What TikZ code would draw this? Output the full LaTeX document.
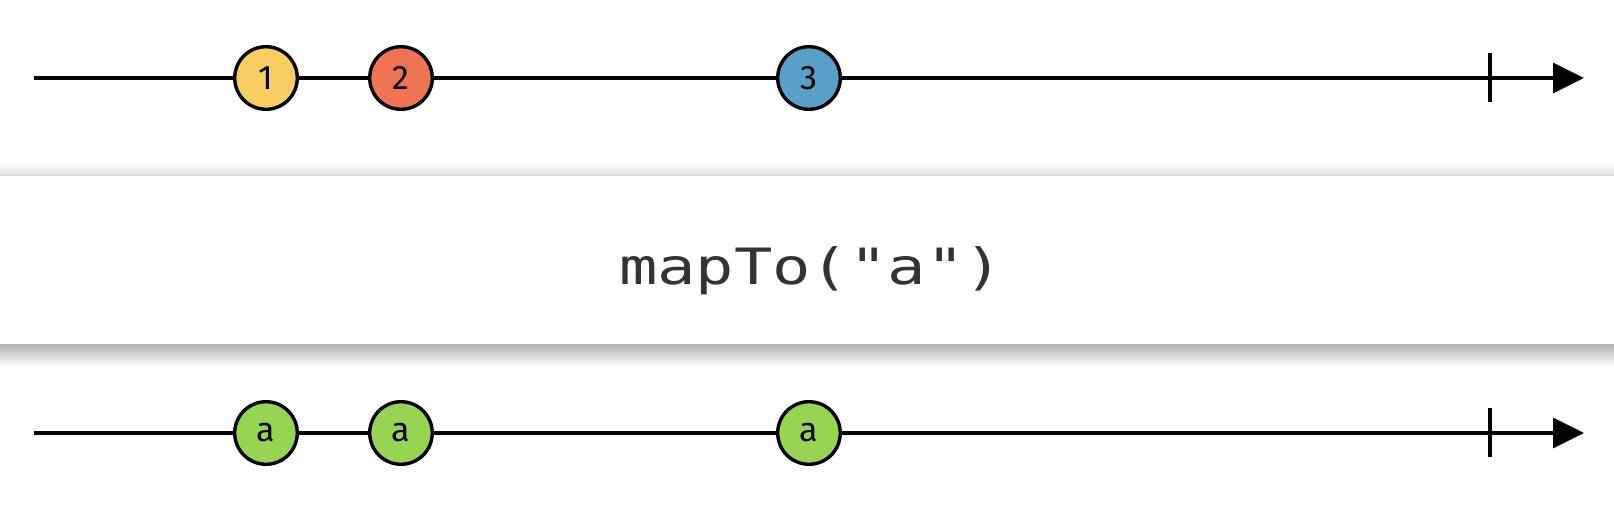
\documentclass[tikz,border=0pt]{standalone}
\usepackage{fontspec}
\setmainfont{Fira Sans}
\newfontfamily\codefont{DejaVu Sans Mono}
\usetikzlibrary{arrows.meta}

\definecolor{marbleYellow}{HTML}{F8CD62}
\definecolor{marbleRed}{HTML}{EF7453}
\definecolor{marbleBlue}{HTML}{59A0C8}
\definecolor{marbleGreen}{HTML}{97D452}
\definecolor{opText}{HTML}{333333}

\tikzset{
  timeline/.style={line width=1.6pt, -{Triangle[length=15.5pt,width=15pt]}},
  endtick/.style={line width=1.6pt},
  marble/.style={circle, draw=black, line width=1.7pt, minimum size=31.3pt,
    inner sep=0pt, font=\fontsize{17}{17}\selectfont},
  opbox/.style={fill=white, draw=none}
}

\begin{document}
\begin{tikzpicture}[x=0.5pt, y=-0.5pt]
\useasboundingbox (0,0) rectangle (1614,520);

% Input stream
\coordinate (inStart) at (34,78);
\coordinate (inEnd) at (1584,78);
\coordinate (inTick) at (1490,78);
\draw[timeline] (inStart) -- (inEnd);
\draw[endtick] (inTick) ++(0,-25) -- ++(0,49);
\node[marble, fill=marbleYellow] (in1) at (266,78) {1};
\node[marble, fill=marbleRed] (in2) at (401,78) {2};
\node[marble, fill=marbleBlue] (in3) at (809,78) {3};

% Operator box with shadow
\shade[top color=white, bottom color=black!9] (0,160) rectangle (1614,174);
\shade[top color=black!30, bottom color=white] (0,344) rectangle (1614,366);
\fill[opbox] (0,174) rectangle (1614,344);
\draw[black!14, line width=1pt] (0,174.5) -- (1614,174.5);
\node[anchor=base, text=opText, font=\codefont\fontsize{25}{25}\selectfont] (op) at (811,284) {\scalebox{1.275}[1]{mapTo("a")}};

% Output stream
\coordinate (outStart) at (34,433);
\coordinate (outEnd) at (1584,433);
\coordinate (outTick) at (1490,433);
\draw[timeline] (outStart) -- (outEnd);
\draw[endtick] (outTick) ++(0,-25) -- ++(0,49);
\node[marble, fill=marbleGreen] (out1) at (266,433) {a};
\node[marble, fill=marbleGreen] (out2) at (401,433) {a};
\node[marble, fill=marbleGreen] (out3) at (809,433) {a};
\end{tikzpicture}
\end{document}
